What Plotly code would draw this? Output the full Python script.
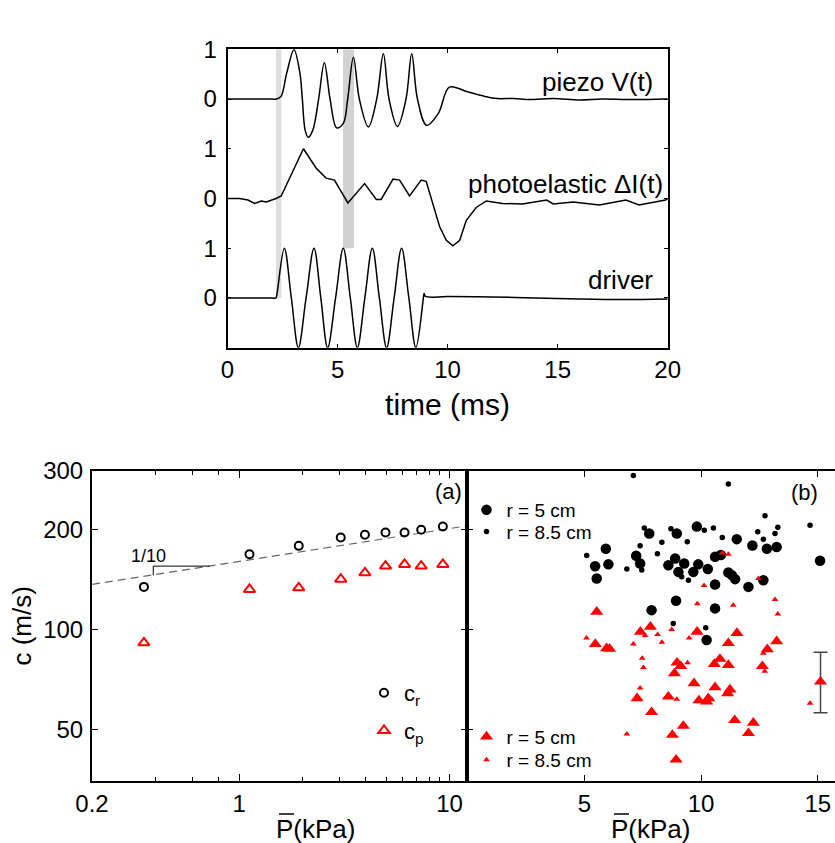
import math
import plotly.graph_objects as go

# ---------------- top panel : time traces ----------------
piezo_t = [0, 1.0, 2.0, 2.23, 2.43, 2.69, 3.02, 3.29, 3.40, 3.53, 3.67, 3.88, 4.14, 4.40, 4.66, 4.96,
           5.26, 5.46, 5.72, 5.99, 6.40, 6.78, 7.08, 7.34, 7.72, 8.11, 8.37, 8.63, 9.05, 9.58, 10.08,
           10.87, 11.63, 12.24, 13.0, 13.74, 14.8, 16.0, 17.0, 18.2, 19.9, 20.0]
piezo_v = [0, 0.0, 0.0, 0.0, 0.05, 0.52, 0.99, 0.52, 0.0, -0.63, -0.77, -0.62, 0.0, 0.73, 0.0, -0.58,
           -0.49, 0.0, 0.84, 0.0, -0.56, 0.0, 0.91, 0.0, -0.55, 0.0, 0.91, 0.0, -0.53, -0.29, 0.24,
           0.15, 0.06, 0.01, 0.01, -0.01, 0.01, -0.02, 0.0, -0.01, 0.0, 0.0]

photo_t = [0, 0.55, 0.93, 1.23, 1.53, 1.76, 2.21, 2.44, 3.45, 4.03, 4.48, 4.86, 5.47, 6.23, 6.76,
           6.98, 7.52, 7.82, 8.27, 8.80, 9.03, 9.64, 9.94, 10.24, 10.55, 10.85, 11.30, 11.76, 12.5,
           13.4, 14.5, 14.8, 15.7, 16.9, 18.1, 18.7, 19.9, 20.0]
photo_v = [0, 0.0, -0.03, -0.10, -0.05, -0.07, 0.0, 0.05, 1.0, 0.61, 0.41, 0.37, -0.09, 0.30, -0.02,
           -0.02, 0.39, 0.37, 0.05, 0.37, 0.34, -0.57, -0.84, -0.95, -0.84, -0.44, -0.18, -0.05, -0.10,
           -0.11, -0.03, -0.11, -0.07, -0.13, -0.03, -0.13, -0.03, 0.0]

driver_t = [0, 1.0, 2.0, 2.2, 2.24, 2.58, 2.90, 3.22, 3.57, 3.93, 4.24, 4.55, 4.91, 5.26, 5.58, 5.90,
            6.24, 6.58, 6.90, 7.23, 7.57, 7.91, 8.24, 8.56, 8.90, 8.93, 9.0, 10, 12, 14, 16, 18, 20]
driver_v = [0, 0.0, 0.0, 0.0, 0.06, 1.0, 0.0, -1.0, 0.0, 1.0, 0.0, -1.0, 0.0, 1.0, 0.0, -1.0,
            0.0, 1.0, 0.0, -1.0, 0.0, 1.0, 0.0, -1.0, 0.0, 0.09, 0.03, 0.03, 0.02, 0.0, -0.02, -0.03, -0.02]

offset_piezo, offset_photo, offset_driver = 4, 2, 0
top_ytick_vals = [0, 1, 2, 3, 4, 5]
top_ytick_text = ["0", "1", "0", "1", "0", "1"]
top_xtick_vals = [0, 5, 10, 15, 20]
dt_r_window = [2.2, 2.45]
dt_p_window = [5.25, 5.75]

# ---------------- panel (a) ----------------
P_a = [0.353, 1.12, 1.92, 3.04, 3.96, 4.96, 6.11, 7.33, 9.29]
c_r = [134.3, 168.5, 178.5, 189.2, 192.7, 195.9, 195.9, 199.5, 204.2]
c_p = [91.1, 131.9, 133.4, 141.7, 148.1, 155.1, 156.9, 155.1, 156.9]
P_fit = [0.2, 12.0]
c_fit = [136.7, 204.9]
slope_P = [0.724, 0.391, 0.391]
slope_c = [155.1, 155.1, 145.5]
a_xtick_vals = [0.2, 1, 10]
a_xtick_text = ["0.2", "1", "10"]
a_xminor = [0.4, 0.6, 0.8, 2, 3, 4, 5, 6, 7, 8, 9]
c_tick_vals = [50, 100, 200, 300]

# ---------------- panel (b) ----------------
P_r5 = [9.82, 7.78, 8.96, 5.92, 7.22, 5.46, 6.03, 7.39, 5.53, 8.60, 8.89, 9.03, 9.28, 9.67, 8.93, 7.88,
        11.53, 12.20, 12.82, 13.24, 15.10, 10.60, 10.85, 9.88, 10.29, 11.17, 11.32, 11.46, 12.67,
        10.60, 12.03, 10.60, 10.24]
c_r5 = [204, 194.5, 194.5, 175, 166.6, 155, 157, 158, 142.4, 156, 163.6, 149, 158, 149, 122, 114.3,
        187, 179, 175, 177, 161, 165.4, 167.5, 157, 152, 148.4, 145.7, 141.7, 140.7,
        136.6, 134.3, 115.7, 92.9]
P_r85 = [7.10, 11.17, 7.57, 8.71, 7.39, 8.32, 9.41, 5.10, 8.13, 6.82, 7.46, 9.46, 9.17, 12.74, 14.67,
         13.29, 10.53, 10.14, 12.43, 13.17, 10.91, 12.67, 8.81, 10.20]
c_r85 = [291, 274, 202, 201, 178.5, 183, 183.5, 167, 169, 152, 151, 140.7, 144, 220, 206,
         203, 202, 199, 197, 194.5, 189, 187, 104.2, 101.1]
P_p5 = [5.53, 7.83, 7.40, 5.47, 5.95, 6.08, 9.83, 11.54, 11.17, 13.24, 12.84, 8.97, 9.13, 8.86, 9.70,
        7.26, 8.60, 7.88, 9.24, 8.77, 8.93, 10.81, 10.57, 11.17, 12.63, 10.60, 11.24, 11.14, 9.91,
        10.31, 10.24, 11.44, 12.24, 12.03]
c_p5 = [113, 101.8, 98.3, 90.3, 87.7, 87.4, 98.3, 97.5, 90.9, 92.1, 87.1, 79.4, 77.5, 73.7, 68.8,
        62.0, 62.7, 56.3, 51.2, 48.1, 40.5, 81.5, 78.6, 78.1, 77.5, 66.9, 65.9, 64.2, 61.1,
        62.0, 60.6, 53.3, 52.3, 48.7]
P_p85 = [10.91, 11.17, 12.46, 10.13, 9.84, 11.38, 13.17, 13.29, 5.09, 7.60, 8.14, 8.74, 8.32, 7.10,
         9.49, 7.48, 7.53, 9.42, 7.39, 8.96, 6.82, 12.67, 12.73, 14.67, 10.46]
c_p85 = [170, 168.5, 142.4, 135.7, 119.4, 118.3, 123, 111.2, 94.2, 95.8, 96.5, 100, 91.5, 90.3,
         94.2, 81.8, 76.8, 79.4, 66.6, 61.6, 48.4, 84.7, 74.8, 59.9, 61.6]
err_P = [15.12]
err_c = [69.6]
err_plus = [15.7]
err_minus = [13.5]
b_xtick_vals = [5, 10, 15]

FONT = "Liberation Sans, Arial, sans-serif"
RED = "#ff0000"
W, H = 835, 843


def px(xp):
    return xp / W


def py(yp):
    return 1 - yp / H


fig = go.Figure()

# top panel bands
fig.add_shape(type="rect", xref="x", yref="y", x0=dt_r_window[0], x1=dt_r_window[1], y0=0, y1=5,
              fillcolor="#dedede", line=dict(width=0), layer="below")
fig.add_shape(type="rect", xref="x", yref="y", x0=dt_p_window[0], x1=dt_p_window[1], y0=1, y1=5,
              fillcolor="#d2d2d2", line=dict(width=0), layer="below")

fig.add_trace(go.Scatter(x=piezo_t, y=[v + offset_piezo for v in piezo_v], mode="lines",
                         line=dict(color="black", width=1.5, shape="spline"), showlegend=False,
                         xaxis="x", yaxis="y"))
fig.add_trace(go.Scatter(x=photo_t, y=[v + offset_photo for v in photo_v], mode="lines",
                         line=dict(color="black", width=1.5), showlegend=False,
                         xaxis="x", yaxis="y"))
fig.add_trace(go.Scatter(x=driver_t, y=[v + offset_driver for v in driver_v], mode="lines",
                         line=dict(color="black", width=1.5, shape="spline"), showlegend=False,
                         xaxis="x", yaxis="y"))

# panel (a)
fig.add_trace(go.Scatter(x=P_fit, y=c_fit, mode="lines", line=dict(color="#666666", width=1.2, dash="8px,5px"),
                         showlegend=False, xaxis="x2", yaxis="y2"))
fig.add_trace(go.Scatter(x=slope_P, y=slope_c, mode="lines", line=dict(color="black", width=1),
                         showlegend=False, xaxis="x2", yaxis="y2"))
fig.add_trace(go.Scatter(x=P_a, y=c_r, mode="markers", name="c<sub>r</sub>", legend="legend", legendgroup="cr",
                         marker=dict(symbol="circle-open", size=8, color="black", line=dict(width=2)),
                         xaxis="x2", yaxis="y2"))
fig.add_trace(go.Scatter(x=P_a, y=c_p, mode="markers", name="c<sub>p</sub>", legend="legend", legendgroup="cp",
                         marker=dict(symbol="triangle-up-open", size=10, color=RED, line=dict(width=2)),
                         xaxis="x2", yaxis="y2"))

# panel (b)
fig.add_trace(go.Scatter(x=P_r5, y=c_r5, mode="markers", name="r = 5 cm", legend="legend2",
                         marker=dict(symbol="circle", size=10.5, color="black"), xaxis="x3", yaxis="y3"))
fig.add_trace(go.Scatter(x=P_r85, y=c_r85, mode="markers", name="r = 8.5 cm", legend="legend3",
                         marker=dict(symbol="circle", size=5.5, color="black"), xaxis="x3", yaxis="y3"))
fig.add_trace(go.Scatter(x=P_p5, y=c_p5, mode="markers", name="r = 5 cm", legend="legend4",
                         marker=dict(symbol="triangle-up", size=11.5, color=RED), xaxis="x3", yaxis="y3"))
fig.add_trace(go.Scatter(x=P_p85, y=c_p85, mode="markers", name="r = 8.5 cm", legend="legend5",
                         marker=dict(symbol="triangle-up", size=6, color=RED), xaxis="x3", yaxis="y3"))
fig.add_trace(go.Scatter(x=err_P, y=err_c, mode="markers", showlegend=False,
                         marker=dict(symbol="triangle-up", size=11.5, color=RED),
                         error_y=dict(type="data", array=err_plus, arrayminus=err_minus, color="#444444",
                                      thickness=1.5, width=7),
                         xaxis="x3", yaxis="y3"))

axis_common = dict(showgrid=False, zeroline=False, showline=True, linecolor="black", ticks="inside",
                   tickcolor="black", automargin=False,
                   tickfont=dict(size=24, family=FONT, color="black"))

ann = []
ann.append(dict(x=2.57, y=5.43, xref="x", yref="y", text="Δt<sub>r</sub>", showarrow=False,
                font=dict(size=22, family=FONT, color="black")))
ann.append(dict(x=5.79, y=5.43, xref="x", yref="y", text="Δt<sub>p</sub>", showarrow=False,
                font=dict(size=22, family=FONT, color="black")))
ann.append(dict(x=19.42, y=4.34, xref="x", yref="y", text="piezo V(t)", showarrow=False, xanchor="right",
                font=dict(size=26, family=FONT, color="black")))
ann.append(dict(x=19.88, y=2.29, xref="x", yref="y", text="photoelastic ΔI(t)", showarrow=False, xanchor="right",
                font=dict(size=26, family=FONT, color="black")))
ann.append(dict(x=19.42, y=0.36, xref="x", yref="y", text="driver", showarrow=False, xanchor="right",
                font=dict(size=26, family=FONT, color="black")))
ann.append(dict(x=math.log10(0.37), y=math.log10(166.3), xref="x2", yref="y2", text="1/10", showarrow=False,
                font=dict(size=18, family=FONT, color="black")))
ann.append(dict(x=px(448), y=py(491), xref="paper", yref="paper", text="(a)", showarrow=False,
                font=dict(size=22, family=FONT, color="black")))
ann.append(dict(x=px(820), y=py(492), xref="paper", yref="paper", text="(b)", showarrow=False,
                font=dict(size=22, family=FONT, color="black")))
# bottom x-axis titles (P with overbar drawn as a short line)
for lx in (274, 609):
    ann.append(dict(x=px(lx), y=py(829), xref="paper", yref="paper", text="P(kPa)", showarrow=False,
                    xanchor="left", yanchor="middle", font=dict(size=26, family=FONT, color="black")))
    fig.add_shape(type="line", xref="paper", yref="paper", x0=px(lx + 5), x1=px(lx + 20),
                  y0=py(814), y1=py(814), line=dict(color="black", width=1.5))

leg_small = dict(xanchor="left", yanchor="middle", bgcolor="rgba(0,0,0,0)",
                 font=dict(size=19, family=FONT), itemsizing="trace")

fig.update_layout(
    width=W, height=H, margin=dict(l=0, r=0, t=0, b=0, autoexpand=False),
    paper_bgcolor="white", plot_bgcolor="white",
    font=dict(family=FONT, color="black"),
    xaxis=dict(axis_common, domain=[px(227.5), px(667.7)], range=[0, 20], tickvals=top_xtick_vals,
               ticklen=4, linewidth=1.5, mirror="ticks", anchor="y",
               title=dict(text="time (ms)", font=dict(size=30, family=FONT), standoff=12)),
    yaxis=dict(axis_common, domain=[py(347.7), py(49.3)], range=[-1, 5], tickvals=top_ytick_vals,
               ticktext=top_ytick_text, ticklen=4, linewidth=1.5, mirror="ticks", anchor="x",
               ticklabelstandoff=4),
    xaxis2=dict(axis_common, type="log", domain=[px(92), px(466.5)], range=[math.log10(0.2), 1.0804],
                tickvals=a_xtick_vals, ticktext=a_xtick_text, ticklen=7, linewidth=2, mirror="ticks",
                minor=dict(tickvals=a_xminor, ticklen=4, ticks="inside", tickcolor="black"), anchor="y2"),
    yaxis2=dict(axis_common, type="log", domain=[py(780.7), py(471)], range=[1.5443, 2.4771],
                tickvals=c_tick_vals, ticktext=[str(v) for v in c_tick_vals], ticklen=6, linewidth=2,
                mirror="ticks", anchor="x2", ticklabelstandoff=2,
                title=dict(text="c (m/s)", font=dict(size=26, family=FONT), standoff=4)),
    xaxis3=dict(axis_common, domain=[px(466.5), 1.0], range=[-0.05, 15.74], tickvals=b_xtick_vals,
                ticklen=6, linewidth=2, mirror="ticks", anchor="y3"),
    yaxis3=dict(axis_common, type="log", domain=[py(780.7), py(471)], range=[1.5443, 2.4771],
                tickvals=[50, 100, 200], showticklabels=False, ticklen=6, linewidth=2, mirror=False,
                anchor="x3"),
    legend=dict(x=px(364), y=py(672), xanchor="left", yanchor="top", bgcolor="rgba(0,0,0,0)",
                font=dict(size=22, family=FONT), itemsizing="trace", tracegroupgap=6),
    legend2=dict(leg_small, x=px(466.5), y=py(510)),
    legend3=dict(leg_small, x=px(466.5), y=py(531.7)),
    legend4=dict(leg_small, x=px(466.5), y=py(736.7)),
    legend5=dict(leg_small, x=px(466.5), y=py(760)),
    annotations=ann,
)

fig.write_html("out.html", config={"displayModeBar": False},
               post_script="document.body.style.margin='0px';document.body.style.padding='0px';"
                           "document.body.style.overflow='hidden';")
